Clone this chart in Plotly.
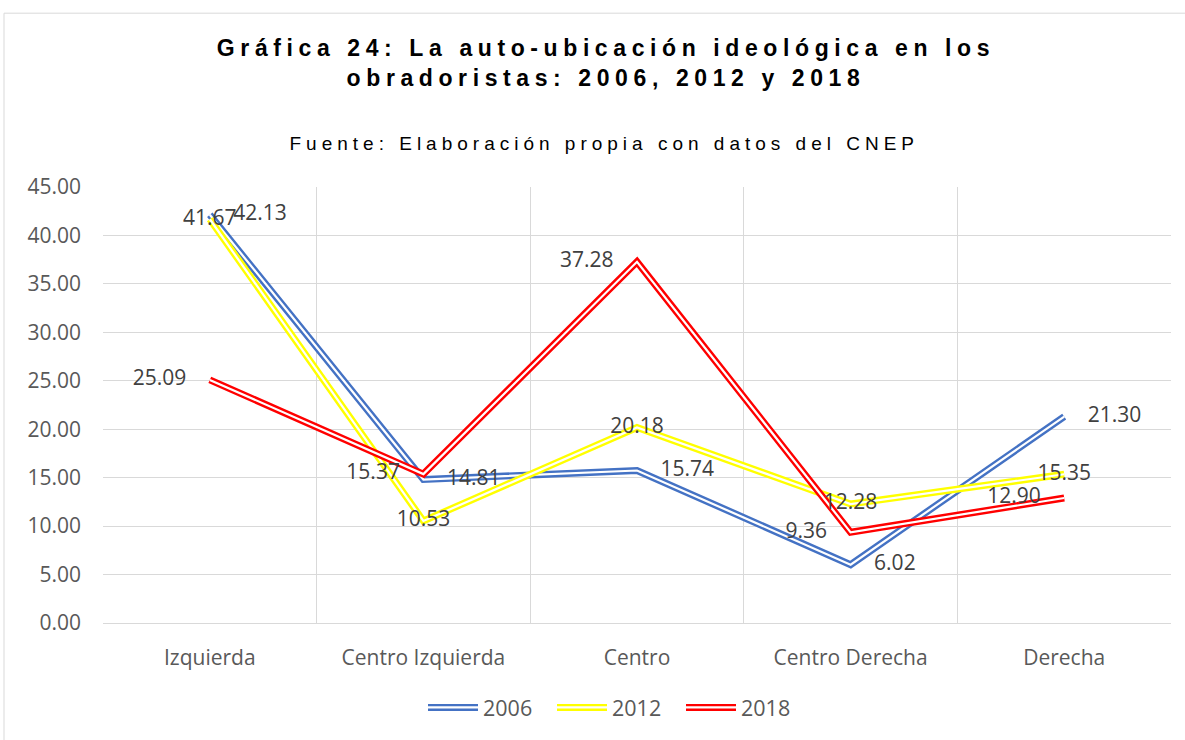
import plotly.graph_objects as go

categories = ["Izquierda", "Centro Izquierda", "Centro", "Centro Derecha", "Derecha"]
years = ["2006", "2012", "2018"]
v2006 = [42.13, 14.81, 15.74, 6.02, 21.30]
v2012 = [41.67, 10.53, 20.18, 12.28, 15.35]
v2018 = [25.09, 15.37, 37.28, 9.36, 12.90]
series_values = [v2006, v2012, v2018]
colors = ["#4472C4", "#FFFF00", "#FF0000"]
label_positions = ["middle right", "middle center", "middle left"]
y_ticks = [0, 5, 10, 15, 20, 25, 30, 35, 40, 45]

title_text = "Gráfica 24: La auto-ubicación ideológica en los<br>obradoristas: 2006, 2012 y 2018"
subtitle_text = "Fuente: Elaboración propia con datos del CNEP"

FONT = "Open Sans, Noto Sans, sans-serif"
TITLE_FONT = "Arial, Liberation Sans, sans-serif"

W, H = 1185, 740
L, R, T, B = 103, 14, 187, 114
pw, ph = W - L - R, H - T - B

fig = go.Figure()

# double lines: coloured wide stroke + white inner stroke
for name, vals, col in zip(years, series_values, colors):
    fig.add_trace(go.Scatter(
        x=categories, y=vals, name=name, mode="lines",
        line=dict(color=col, width=7), hoverinfo="skip", showlegend=True,
    ))
    fig.add_trace(go.Scatter(
        x=categories, y=vals, name=name, mode="lines",
        line=dict(color="#ffffff", width=2.2), hoverinfo="skip", showlegend=False,
    ))

# data labels on top
for name, vals, pos in zip(years, series_values, label_positions):
    fig.add_trace(go.Scatter(
        x=categories, y=vals, mode="markers+text",
        marker=dict(size=36, opacity=0),
        text=[f"{v:.2f}" for v in vals], textposition=pos,
        textfont=dict(family=FONT, size=21, color="#404040"),
        hoverinfo="skip", showlegend=False,
    ))

fig.add_annotation(
    text=subtitle_text, xref="paper", yref="paper",
    x=(604 - L) / pw, y=(H - B - 143) / ph, xanchor="center", yanchor="middle",
    showarrow=False, font=dict(family=TITLE_FONT, size=19, color="#000000"),
)

fig.add_shape(
    type="rect", xref="paper", yref="paper",
    x0=(4 - L) / pw, x1=2, y0=-2, y1=(H - B - 12) / ph,
    line=dict(color="#d9d9d9", width=1), layer="below",
)

fig.update_layout(
    width=W, height=H,
    margin=dict(l=L, r=R, t=T, b=B),
    paper_bgcolor="#ffffff", plot_bgcolor="#ffffff",
    title=dict(
        text=title_text, xref="container", yref="container",
        x=606 / W, y=1 - 56 / H, xanchor="center", yanchor="middle",
        font=dict(family=TITLE_FONT, size=23, color="#000000", weight="bold"),
    ),
    xaxis=dict(
        type="category", tickson="boundaries", showgrid=True, gridcolor="#d9d9d9",
        gridwidth=1, showline=True, linecolor="#d9d9d9", linewidth=1,
        ticks="", ticklabelstandoff=16,
        tickfont=dict(family=FONT, size=21, color="#595959"),
        range=[-0.5, 4.5], fixedrange=True,
    ),
    yaxis=dict(
        range=[0, 45], tickvals=y_ticks, tickformat=".2f",
        showgrid=True, gridcolor="#d9d9d9", gridwidth=1, zeroline=False,
        showline=False, ticks="", ticklabelstandoff=21,
        tickfont=dict(family=FONT, size=21, color="#595959"),
        fixedrange=True,
    ),
    legend=dict(
        orientation="h", x=(423 - L) / pw, xanchor="left",
        y=(H - B - 711) / ph, yanchor="middle",
        font=dict(family=FONT, size=21.5, color="#595959"),
        bgcolor="rgba(0,0,0,0)",
        itemwidth=50, entrywidth=64, entrywidthmode="pixels",
    ),
    showlegend=True,
)

post = (
    "document.body.style.margin='0';"
    "var s=document.createElement('style');"
    "s.textContent='.gtitle{letter-spacing:5.6px;} .annotation-text{letter-spacing:5px;}';"
    "document.head.appendChild(s);"
    "var gd=document.getElementById('{plot_id}');"
    "gd.querySelectorAll('.legendlines path').forEach(function(p){"
    "var c=p.cloneNode(true);c.style.stroke='#ffffff';c.style.strokeWidth='2.2px';"
    "p.parentNode.appendChild(c);});"
)

fig.write_html("out.html", post_script=post, config={"displayModeBar": False})
